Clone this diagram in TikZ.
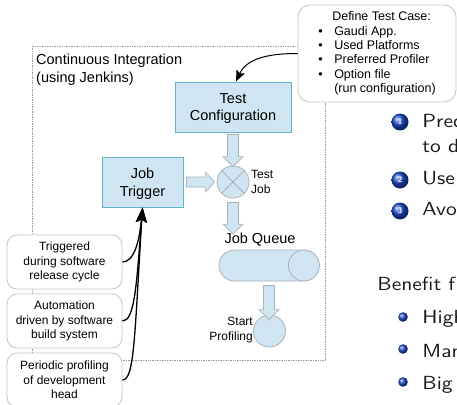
\documentclass[tikz,border=0pt]{standalone}
\usepackage{fontspec}
\setmainfont{Liberation Sans}
\usetikzlibrary{calc,arrows.meta}
\definecolor{boxfill}{HTML}{D0E5F2}
\definecolor{boxline}{HTML}{66B2CC}
\definecolor{agray}{HTML}{AAB2B9}
\definecolor{cgray}{HTML}{C4C4C4}
\definecolor{dgray}{HTML}{999999}
\definecolor{bblue}{RGB}{25,75,200}
\newcommand\fmain{\fontsize{14.5}{17.5}\selectfont}
\newcommand\fsmall{\fontsize{12}{14.5}\selectfont}
\newcommand\fcall{\fontsize{12.5}{14.4}\selectfont}
\newcommand\fbeam{\sffamily\fontsize{10}{12}\selectfont}
\newcommand\blkdown[2]{\path[blockarr] let \p1=(#1), \p2=(#2) in
  ({\x1-5.5pt},\y1) -- ({\x1+5.5pt},\y1) -- ({\x1+5.5pt},{\y2+10pt}) -- ({\x1+10pt},{\y2+10pt})
  -- (\x1,\y2) -- ({\x1-10pt},{\y2+10pt}) -- ({\x1-5.5pt},{\y2+10pt}) -- cycle;}
\newcommand\blkright[2]{\path[blockarr] let \p1=(#1), \p2=(#2) in
  (\x1,{\y1+5pt}) -- ({\x2-9pt},{\y1+5pt}) -- ({\x2-9pt},{\y1+10pt}) -- (\x2,\y1)
  -- ({\x2-9pt},{\y1-10pt}) -- ({\x2-9pt},{\y1-5pt}) -- (\x1,{\y1-5pt}) -- cycle;}
\tikzset{
  blockarr/.style={draw=agray, fill=boxfill, line width=0.7pt},
  cibox/.style={draw=boxline, fill=boxfill, line width=1pt, align=center, font=\fmain, inner sep=0pt, text depth=0pt},
  stage/.style={circle, draw=agray, fill=boxfill, line width=0.8pt, minimum size=32pt, inner sep=0pt},
  callbox/.style={draw=cgray, fill=white, line width=0.8pt, rounded corners=10pt, align=center, font=\fsmall, inner sep=0pt},
  lbl/.style={inner sep=0pt},
  beam/.style={font=\fbeam, xscale=2.15, yscale=1.9, anchor=base west, inner sep=0pt, text=black!90},
  ballnum/.style={text=white, font=\sffamily\bfseries\fontsize{8}{8}\selectfont, inner sep=0pt},
  trig/.style={draw=black, line width=1.3pt, -{Stealth[length=15pt,width=11pt,inset=3pt]}},
}
\begin{document}
\begin{tikzpicture}[x=1pt,y=1pt]
\useasboundingbox (0,0) rectangle (457,-404);
\clip (0,0) rectangle (457,-404);
% frame
\draw[dgray, densely dotted, line width=0.7pt] (32,-46) rectangle (325,-360);
\node[lbl, anchor=north west, align=left, font=\fmain] (title) at (36,-54) {Continuous Integration\\(using Jenkins)};
% main nodes
\node[cibox, minimum width=116pt, minimum height=50pt] (tc) at (233,-107) {Test\\Configuration};
\node[cibox, minimum width=81pt, minimum height=50pt] (jt) at (142.5,-182) {Job\\Trigger};
\node[stage] (tj) at (233,-182) {};
\draw[agray, line width=0.8pt] (tj.45) -- (tj.225) (tj.135) -- (tj.315);
\node[lbl, anchor=west, align=left, font=\fsmall] (tjl) at (251,-182) {Test\\Job};
\node[lbl, font=\fmain] (jql) at (260,-240) {Job Queue};
\node[draw=agray, fill=boxfill, line width=0.8pt, rounded corners=15.5pt, minimum width=100pt, minimum height=31pt, inner sep=0pt] (jq) at (269,-265.5) {};
\draw[agray, fill=boxfill, line width=0.8pt] ($(jq.east)+(-15.5,0)$) circle (15.5pt);
\node[stage] (sp) at (269.5,-331) {};
\node[lbl, anchor=east, align=right, font=\fsmall] (spl) at (253,-330) {Start\\Profiling};
% block arrows
\blkdown{$(tc.south)+(0,-2)$}{$(tj.north)+(0,-1)$}
\blkright{$(jt.east)+(3,0)$}{$(tj.west)+(-2,0)$}
\blkdown{$(tj.south)+(0,-4)$}{$(jql.north)+(0,-1)$}
\blkdown{$(jq.south)+(0,-4)$}{$(sp.north)+(0,-5)$}
% top callout
\node[callbox, rounded corners=12pt, minimum width=158pt, minimum height=97pt, align=left, font=\fcall] (dtc) at (377,-53.5)
 {\hspace*{14pt}Define Test Case:\\
  \makebox[16pt][l]{\textbullet}Gaudi App.\\
  \makebox[16pt][l]{\textbullet}Used Platforms\\
  \makebox[16pt][l]{\textbullet}Preferred Profiler\\
  \makebox[16pt][l]{\textbullet}Option file\\
  \hspace*{16pt}(run configuration)};
\draw[black, line width=1pt, -{Stealth[length=11pt,width=9pt,inset=2pt]}] (dtc.west) to[out=180, in=65] ($(tc.north)+(3,0)$);
% left callouts
\node[callbox, minimum width=115pt, minimum height=54pt] (b1) at (64.5,-262) {Triggered\\during software\\release cycle};
\node[callbox, minimum width=115pt, minimum height=54pt] (b2) at (64.5,-321) {Automation\\driven by software\\build system};
\node[callbox, minimum width=115pt, minimum height=54pt] (b3) at (64.5,-380) {Periodic profiling\\of development\\head};
\draw[trig] (b1.east) .. controls +(12,0) and +(-3,-33) .. (jt.south);
\draw[trig] (b2.east) .. controls +(12,0) and +(-6,-80) .. (jt.south);
\draw[trig] (b3.east) .. controls +(12,0) and +(-8,-130) .. (jt.south);
% beamer text on the right
\shade[ball color=bblue] (400,-122) circle (8.5pt);
\node[ballnum] (n1) at (400,-122) {1};
\shade[ball color=bblue] (400,-180) circle (8.5pt);
\node[ballnum] (n2) at (400,-180) {2};
\shade[ball color=bblue] (400,-211) circle (8.5pt);
\node[ballnum] (n3) at (400,-211) {3};
\node[beam] (t1) at (422,-127) {Pred};
\node[beam] (t1b) at (422,-152) {to d};
\node[beam] (t2) at (422,-184) {Use};
\node[beam] (t3) at (422,-215) {Avo};
\node[beam] (ben) at (377,-290) {Benefit f};
\shade[ball color=bblue] (403,-317) circle (4.8pt);
\shade[ball color=bblue] (403,-349) circle (4.8pt);
\shade[ball color=bblue] (403,-382) circle (4.8pt);
\node[beam] (i1) at (422,-323) {High};
\node[beam] (i2) at (422,-357) {Man};
\node[beam] (i3) at (422,-389) {Big};
\end{tikzpicture}
\end{document}
